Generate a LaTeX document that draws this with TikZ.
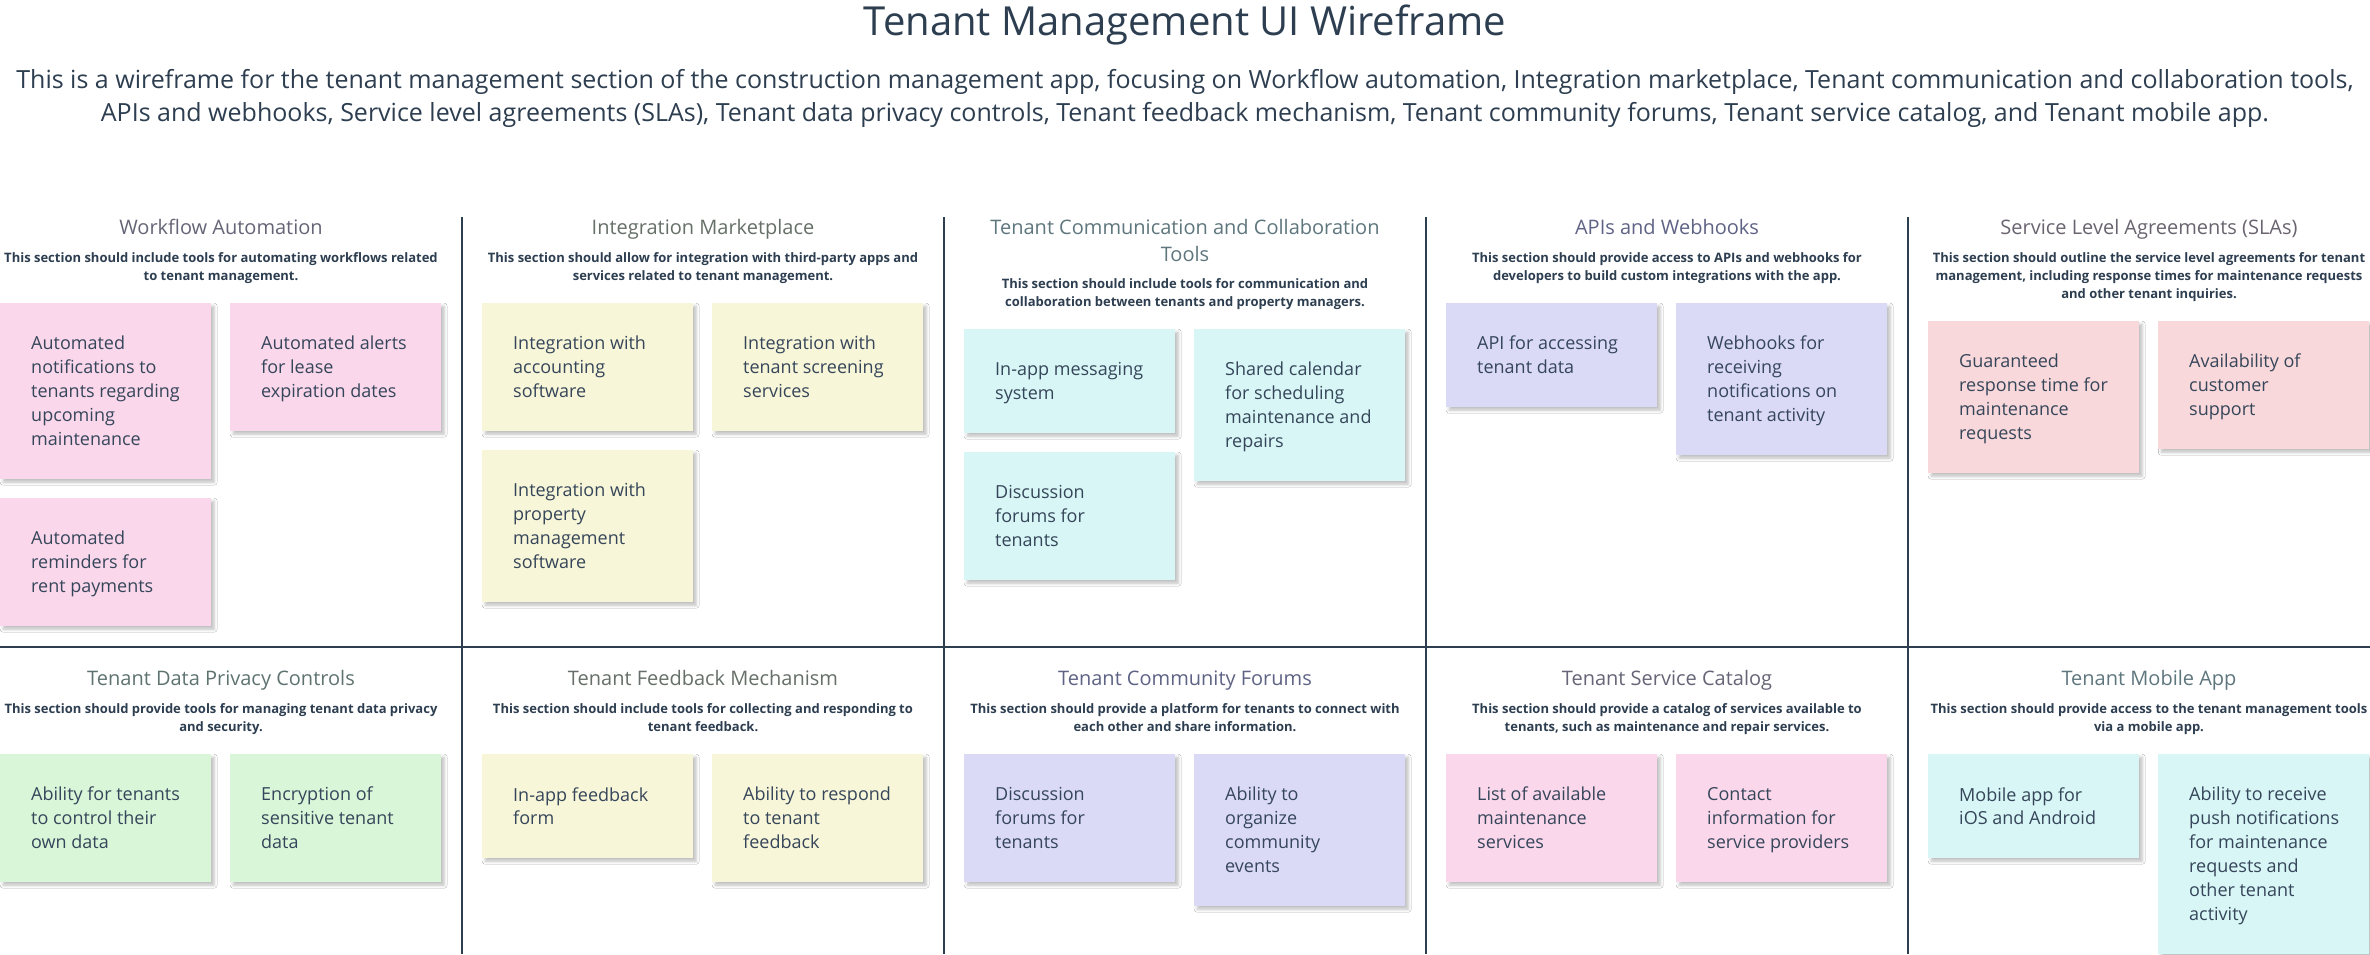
\documentclass[tikz,border=0pt]{standalone}
\usepackage{fontspec}
\setmainfont{Open Sans}
\usetikzlibrary{shadows.blur}
\definecolor{ink}{HTML}{2D3E50}
\definecolor{boxink}{HTML}{36465A}
\definecolor{cpink}{HTML}{FAD7EB}
\definecolor{cyellow}{HTML}{F8F6D8}
\definecolor{ccyan}{HTML}{D8F6F6}
\definecolor{clav}{HTML}{DADAF7}
\definecolor{csalmon}{HTML}{F8D8DA}
\definecolor{cgreen}{HTML}{D9F6D9}
\definecolor{tpink}{HTML}{666577}
\definecolor{tyellow}{HTML}{667068}
\definecolor{tcyan}{HTML}{5E767D}
\definecolor{tlav}{HTML}{5F6385}
\definecolor{tsalmon}{HTML}{6A6470}
\definecolor{tgreen}{HTML}{5E7370}
\begin{document}
\begin{tikzpicture}[x=1pt,y=-1pt,
  sticky/.style n args={2}{rectangle, draw=none, fill=#1, minimum width=211pt,
    minimum height=#2pt, inner sep=0pt, anchor=north west,
    blur shadow={shadow xshift=3pt, shadow yshift=-3pt, shadow blur radius=3pt, shadow opacity=25}},
  boxtext/.style={anchor=west, align=left, inner sep=0pt, text=boxink,
    font=\fontsize{18}{24}\selectfont,
    execute at begin node=\strut, execute at end node=\strut},
  sectitle/.style={anchor=base, inner sep=0pt, text=#1, font=\fontsize{20}{27}\selectfont},
  sectitletwo/.style={anchor=north, align=center, inner sep=0pt, text=#1,
    font=\fontsize{20}{27}\selectfont, execute at begin node={\rule{0pt}{20pt}}},
  desc/.style={anchor=north, align=center, inner sep=0pt, text=ink,
    font=\fontsize{13}{18}\bfseries\selectfont, execute at begin node={\rule{0pt}{13pt}}},
  divider/.style={draw=ink, line width=2pt},
]
\path[use as bounding box, fill=white] (0,0) rectangle (2370,954);

% header
\node[anchor=base, inner sep=0pt, text=ink, font=\fontsize{40}{48}\selectfont] (title) at (1185,35) {Tenant Management UI Wireframe};
\node[anchor=north, align=center, inner sep=0pt, text=ink, font=\fontsize{25}{33}\selectfont,
  execute at begin node={\rule{0pt}{25pt}}] (subtitle) at (1185,69)
  {This is a wireframe for the tenant management section of the construction management app, focusing on Workflow automation, Integration marketplace, Tenant communication and collaboration tools,\\
   APIs and webhooks, Service level agreements (SLAs), Tenant data privacy controls, Tenant feedback mechanism, Tenant community forums, Tenant service catalog, and Tenant mobile app.};

% dividers
\draw[divider] (462,217) -- (462,954);
\draw[divider] (944,217) -- (944,954);
\draw[divider] (1426,217) -- (1426,954);
\draw[divider] (1908,217) -- (1908,954);
\draw[divider] (0,647) -- (2370,647);

% ---------- Section 1: Workflow Automation
\node[sectitle=tpink] (s1t) at (221,234) {Workflow Automation};
\node[desc] (s1d) at (221,252) {This section should include tools for automating workflows related\\to tenant management.};
\node[sticky={cpink}{176}] (wa1) at (0,303) {};
\node[boxtext] (wa1t) at ([xshift=31pt,yshift=-3.5pt]wa1.west) {Automated\\notifications to\\tenants regarding\\upcoming\\maintenance};
\node[sticky={cpink}{128}] (wa2) at (230,303) {};
\node[boxtext] (wa2t) at ([xshift=31pt,yshift=-3.5pt]wa2.west) {Automated alerts\\for lease\\expiration dates};
\node[sticky={cpink}{128}] (wa3) at (0,498) {};
\node[boxtext] (wa3t) at ([xshift=31pt,yshift=-3.5pt]wa3.west) {Automated\\reminders for\\rent payments};

% ---------- Section 2: Integration Marketplace
\node[sectitle=tyellow] (s2t) at (703,234) {Integration Marketplace};
\node[desc] (s2d) at (703,252) {This section should allow for integration with third-party apps and\\services related to tenant management.};
\node[sticky={cyellow}{128}] (im1) at (482,303) {};
\node[boxtext] (im1t) at ([xshift=31pt,yshift=-3.5pt]im1.west) {Integration with\\accounting\\software};
\node[sticky={cyellow}{128}] (im2) at (712,303) {};
\node[boxtext] (im2t) at ([xshift=31pt,yshift=-3.5pt]im2.west) {Integration with\\tenant screening\\services};
\node[sticky={cyellow}{152}] (im3) at (482,450) {};
\node[boxtext] (im3t) at ([xshift=31pt,yshift=-3.5pt]im3.west) {Integration with\\property\\management\\software};

% ---------- Section 3: Tenant Communication and Collaboration Tools
\node[sectitletwo=tcyan] (s3t) at (1185,219) {Tenant Communication and Collaboration\\Tools};
\node[desc] (s3d) at (1185,278) {This section should include tools for communication and\\collaboration between tenants and property managers.};
\node[sticky={ccyan}{104}] (cc1) at (964,329) {};
\node[boxtext] (cc1t) at ([xshift=31pt,yshift=-3.5pt]cc1.west) {In-app messaging\\system};
\node[sticky={ccyan}{152}] (cc2) at (1194,329) {};
\node[boxtext] (cc2t) at ([xshift=31pt,yshift=-3.5pt]cc2.west) {Shared calendar\\for scheduling\\maintenance and\\repairs};
\node[sticky={ccyan}{128}] (cc3) at (964,452) {};
\node[boxtext] (cc3t) at ([xshift=31pt,yshift=-3.5pt]cc3.west) {Discussion\\forums for\\tenants};

% ---------- Section 4: APIs and Webhooks
\node[sectitle=tlav] (s4t) at (1667,234) {APIs and Webhooks};
\node[desc] (s4d) at (1667,252) {This section should provide access to APIs and webhooks for\\developers to build custom integrations with the app.};
\node[sticky={clav}{104}] (ap1) at (1446,303) {};
\node[boxtext] (ap1t) at ([xshift=31pt,yshift=-3.5pt]ap1.west) {API for accessing\\tenant data};
\node[sticky={clav}{152}] (ap2) at (1676,303) {};
\node[boxtext] (ap2t) at ([xshift=31pt,yshift=-3.5pt]ap2.west) {Webhooks for\\receiving\\notifications on\\tenant activity};

% ---------- Section 5: SLAs
\node[sectitle=tsalmon] (s5t) at (2149,234) {Service Level Agreements (SLAs)};
\node[desc] (s5d) at (2149,252) {This section should outline the service level agreements for tenant\\management, including response times for maintenance requests\\and other tenant inquiries.};
\node[sticky={csalmon}{152}] (sl1) at (1928,321) {};
\node[boxtext] (sl1t) at ([xshift=31pt,yshift=-3.5pt]sl1.west) {Guaranteed\\response time for\\maintenance\\requests};
\node[sticky={csalmon}{128}] (sl2) at (2158,321) {};
\node[boxtext] (sl2t) at ([xshift=31pt,yshift=-3.5pt]sl2.west) {Availability of\\customer\\support};

% ---------- Section 6: Tenant Data Privacy Controls
\node[sectitle=tgreen] (s6t) at (221,685) {Tenant Data Privacy Controls};
\node[desc] (s6d) at (221,703) {This section should provide tools for managing tenant data privacy\\and security.};
\node[sticky={cgreen}{128}] (dp1) at (0,754) {};
\node[boxtext] (dp1t) at ([xshift=31pt,yshift=-3.5pt]dp1.west) {Ability for tenants\\to control their\\own data};
\node[sticky={cgreen}{128}] (dp2) at (230,754) {};
\node[boxtext] (dp2t) at ([xshift=31pt,yshift=-3.5pt]dp2.west) {Encryption of\\sensitive tenant\\data};

% ---------- Section 7: Tenant Feedback Mechanism
\node[sectitle=tyellow] (s7t) at (703,685) {Tenant Feedback Mechanism};
\node[desc] (s7d) at (703,703) {This section should include tools for collecting and responding to\\tenant feedback.};
\node[sticky={cyellow}{104}] (fb1) at (482,754) {};
\node[boxtext] (fb1t) at ([xshift=31pt,yshift=-3.5pt]fb1.west) {In-app feedback\\form};
\node[sticky={cyellow}{128}] (fb2) at (712,754) {};
\node[boxtext] (fb2t) at ([xshift=31pt,yshift=-3.5pt]fb2.west) {Ability to respond\\to tenant\\feedback};

% ---------- Section 8: Tenant Community Forums
\node[sectitle=tlav] (s8t) at (1185,685) {Tenant Community Forums};
\node[desc] (s8d) at (1185,703) {This section should provide a platform for tenants to connect with\\each other and share information.};
\node[sticky={clav}{128}] (cf1) at (964,754) {};
\node[boxtext] (cf1t) at ([xshift=31pt,yshift=-3.5pt]cf1.west) {Discussion\\forums for\\tenants};
\node[sticky={clav}{152}] (cf2) at (1194,754) {};
\node[boxtext] (cf2t) at ([xshift=31pt,yshift=-3.5pt]cf2.west) {Ability to\\organize\\community\\events};

% ---------- Section 9: Tenant Service Catalog
\node[sectitle=tpink] (s9t) at (1667,685) {Tenant Service Catalog};
\node[desc] (s9d) at (1667,703) {This section should provide a catalog of services available to\\tenants, such as maintenance and repair services.};
\node[sticky={cpink}{128}] (sc1) at (1446,754) {};
\node[boxtext] (sc1t) at ([xshift=31pt,yshift=-3.5pt]sc1.west) {List of available\\maintenance\\services};
\node[sticky={cpink}{128}] (sc2) at (1676,754) {};
\node[boxtext] (sc2t) at ([xshift=31pt,yshift=-3.5pt]sc2.west) {Contact\\information for\\service providers};

% ---------- Section 10: Tenant Mobile App
\node[sectitle=tcyan] (s10t) at (2149,685) {Tenant Mobile App};
\node[desc] (s10d) at (2149,703) {This section should provide access to the tenant management tools\\via a mobile app.};
\node[sticky={ccyan}{104}] (ma1) at (1928,754) {};
\node[boxtext] (ma1t) at ([xshift=31pt,yshift=-3.5pt]ma1.west) {Mobile app for\\iOS and Android};
\node[sticky={ccyan}{200}] (ma2) at (2158,754) {};
\node[boxtext] (ma2t) at ([xshift=31pt,yshift=-3.5pt]ma2.west) {Ability to receive\\push notifications\\for maintenance\\requests and\\other tenant\\activity};
\end{tikzpicture}
\end{document}
